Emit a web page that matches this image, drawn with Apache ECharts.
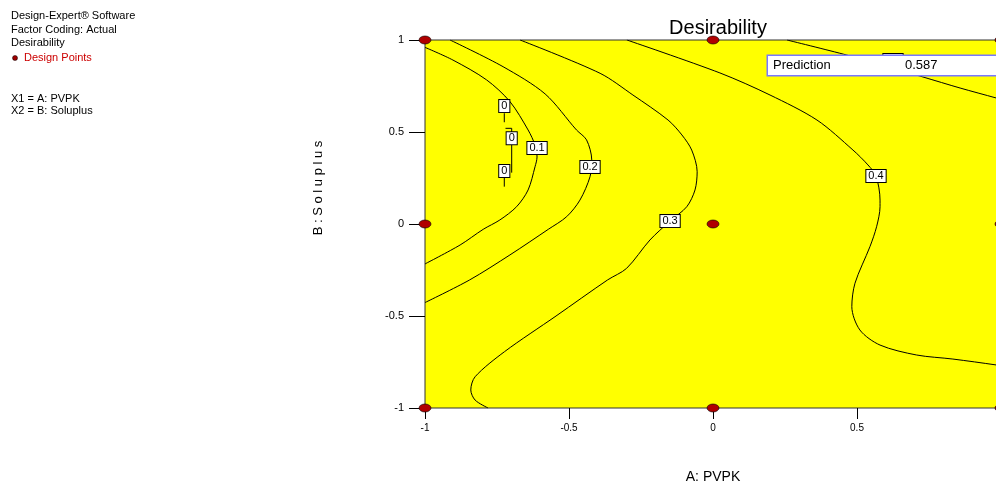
<!DOCTYPE html>
<html><head><meta charset="utf-8">
<script src="https://cdn.jsdelivr.net/npm/echarts@6/dist/echarts.min.js"></script>
<style>html,body{margin:0;padding:0;background:#fff}#c{width:996px;height:484px}</style>
</head><body><div id="c"></div>
<script>
// ---- data ----
const xTicks = [-1, -0.5, 0, 0.5, 1];
const yTicks = [-1, -0.5, 0, 0.5, 1];
const designPoints = [[-1,1],[0,1],[1,1],[-1,0],[0,0],[1,0],[-1,-1],[0,-1],[1,-1]];

const contour0a = [[-0.7247,0.602],[-0.7247,0.553]];
const contour0b = [[-0.7205,0.520],[-0.699,0.520],[-0.699,0.279]];
const contour0c = [[-0.7247,0.254],[-0.7247,0.203]];
const contour01 = [[-1,0.960],[-0.903,0.891],[-0.786,0.783],[-0.705,0.665],[-0.642,0.511],[-0.618,0.429],
  [-0.611,0.364],[-0.618,0.311],[-0.642,0.185],[-0.682,0.094],[-0.740,0.022],[-0.798,-0.029],[-0.878,-0.114],[-1,-0.217]];
const contour02 = [[-0.913,1.0],[-0.729,0.855],[-0.583,0.707],[-0.474,0.511],[-0.439,0.457],[-0.421,0.348],
  [-0.427,0.257],[-0.462,0.130],[-0.508,0.040],[-0.572,-0.029],[-0.705,-0.168],[-0.845,-0.304],[-1,-0.427]];
const contour03 = [[-0.670,1.0],[-0.392,0.819],[-0.278,0.701],[-0.156,0.565],[-0.108,0.484],[-0.074,0.402],
  [-0.055,0.284],[-0.0625,0.185],[-0.091,0.094],[-0.149,0.016],[-0.219,-0.087],[-0.300,-0.241],[-0.366,-0.304],
  [-0.545,-0.5],[-0.724,-0.694],[-0.826,-0.830],[-0.841,-0.902],[-0.826,-0.957],[-0.781,-1.0]];
const contour04 = [[-0.299,1.0],[0.024,0.821],[0.198,0.701],[0.361,0.565],[0.486,0.402],[0.538,0.321],
  [0.566,0.261],[0.580,0.130],[0.580,0.094],[0.568,-0.015],[0.545,-0.123],[0.493,-0.322],[0.482,-0.449],
  [0.510,-0.576],[0.580,-0.658],[0.707,-0.712],[0.833,-0.734],[0.983,-0.766],[1.0,-0.772]];
const contour05 = [[0.257,1.0],[0.465,0.918],[0.597,0.859],[0.729,0.799],[0.858,0.739],[0.983,0.685],[1.0,0.677]];

const contourLabels = [[-0.7247,0.641,'0'],[-0.699,0.466,'0'],[-0.7247,0.288,'0'],[-0.611,0.413,'0.1'],
  [-0.427,0.310,'0.2'],[-0.149,0.016,'0.3'],[0.566,0.261,'0.4'],[0.625,0.891,'0.5']];
const predictionPoint = [0.191, 0.913];
const predictionValue = 0.587;

// ---- chart ----
const FONT = '"Liberation Sans", Arial, sans-serif';
const chart = echarts.init(document.getElementById('c'), null, {renderer: 'canvas'});

function lineSeries(data, smooth) {
  return {type: 'line', data: data, symbol: 'none', smooth: smooth, silent: true, z: 3,
    lineStyle: {color: '#000', width: 1}, clip: true, animation: false};
}

const option = {
  animation: false,
  backgroundColor: '#fff',
  title: {text: 'Desirability', left: 713, top: 13, textAlign: 'center',
    textStyle: {fontFamily: FONT, fontSize: 20, fontWeight: 'normal', color: '#000'}},
  grid: {left: 425, top: 40, width: 576, height: 368, show: true, outerBoundsMode: 'none', containLabel: false,
    backgroundColor: '#ffff00', borderColor: '#333', borderWidth: 1},
  xAxis: {type: 'value', min: xTicks[0], max: xTicks[xTicks.length-1], interval: xTicks[1]-xTicks[0],
    axisLine: {show: false, onZero: false}, splitLine: {show: false},
    axisTick: {show: true, length: 11, lineStyle: {color: '#000'}},
    axisLabel: {margin: 15, fontFamily: FONT, fontSize: 10, color: '#000'}},
  yAxis: {type: 'value', min: yTicks[0], max: yTicks[yTicks.length-1], interval: yTicks[1]-yTicks[0],
    axisLine: {show: false, onZero: false}, splitLine: {show: false},
    axisTick: {show: true, length: 16, lineStyle: {color: '#000'}},
    axisLabel: {margin: 21, fontFamily: FONT, fontSize: 11, color: '#000'}},
  graphic: [
    {type: 'text', left: 11, top: 10, style: {text: 'Design-Expert® Software', font: '11px ' + FONT, fill: '#000'}},
    {type: 'text', left: 11, top: 24, style: {text: 'Factor Coding: Actual', font: '11px ' + FONT, fill: '#000'}},
    {type: 'text', left: 11, top: 37, style: {text: 'Desirability', font: '11px ' + FONT, fill: '#000'}},
    {type: 'circle', shape: {cx: 15, cy: 58, r: 2.5}, style: {fill: '#a00000', stroke: '#000', lineWidth: 0.5}},
    {type: 'text', left: 24, top: 52, style: {text: 'Design Points', font: '11px ' + FONT, fill: '#cc0000'}},
    {type: 'text', left: 11, top: 93, style: {text: 'X1 = A: PVPK', font: '11px ' + FONT, fill: '#000'}},
    {type: 'text', left: 11, top: 105, style: {text: 'X2 = B: Soluplus', font: '11px ' + FONT, fill: '#000'}},
    {type: 'text', x: 713, y: 477, style: {text: 'A: PVPK', font: '14px ' + FONT, fill: '#000', align: 'center', verticalAlign: 'middle'}},
    {type: 'text', x: 318, y: 188, rotation: Math.PI / 2, style: {text: 'B : S o l u p l u s', font: '13px ' + FONT, fill: '#000', align: 'center', verticalAlign: 'middle'}}
  ],
  series: [
    lineSeries(contour0a, false), lineSeries(contour0b, false), lineSeries(contour0c, false),
    lineSeries(contour01, 0.3), lineSeries(contour02, 0.3), lineSeries(contour03, 0.3),
    lineSeries(contour04, 0.3), lineSeries(contour05, 0.3),
    {type: 'scatter', data: contourLabels, symbolSize: 0, z: 5, silent: true, clip: false,
      itemStyle: {opacity: 1},
      label: {show: true, position: 'inside', formatter: p => p.data[2], fontFamily: FONT, fontSize: 11, color: '#000',
        backgroundColor: '#fff', borderColor: '#000', borderWidth: 1, padding: [1, 2, 0, 2]}},
    {type: 'scatter', data: designPoints, symbol: 'circle', symbolSize: [12, 8], z: 6, silent: true, clip: false,
      itemStyle: {color: '#b00000', borderColor: '#000', borderWidth: 0.6, opacity: 1}},
    {type: 'scatter', data: [predictionPoint.concat([predictionValue])], symbolSize: 0, z: 8, silent: true, clip: false,
      itemStyle: {opacity: 1},
      label: {show: true, position: 'inside', align: 'left', verticalAlign: 'top',
        formatter: p => '{a|Prediction}{b|' + p.data[2] + '}',
        backgroundColor: '#fff', borderColor: '#7878ff', borderWidth: 1.5, padding: [3, 6, 3, 5], width: 260,
        rich: {a: {width: 132, fontFamily: FONT, fontSize: 13, color: '#000'},
               b: {fontFamily: FONT, fontSize: 13, color: '#000'}}}}
  ]
};
chart.setOption(option);
</script>
</body></html>
